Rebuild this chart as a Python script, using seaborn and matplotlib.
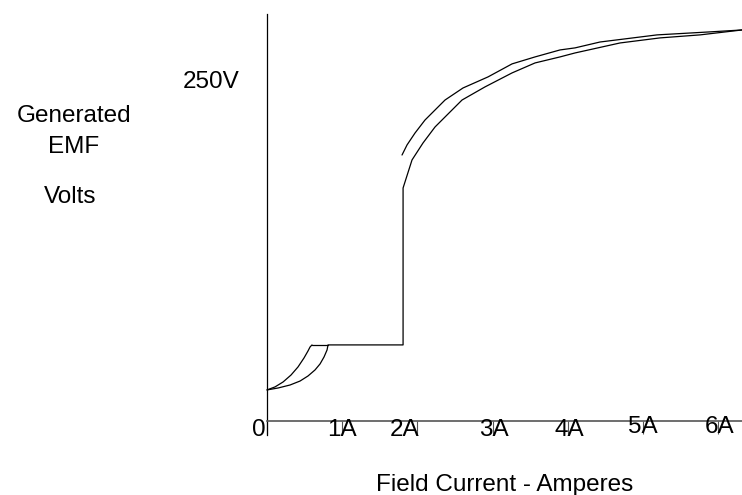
import matplotlib
matplotlib.use("Agg")
import matplotlib.pyplot as plt
import seaborn as sns
import pandas as pd

# ---- data (field current in A, generated EMF in V) ----
rise_a_current = [0.0, 0.106, 0.213, 0.319, 0.412, 0.492, 0.545, 0.572, 0.598]
rise_a_emf = [22.7, 24.9, 28.5, 33.6, 39.5, 46.1, 51.2, 54.1, 55.6]

rise_b_current = [0.0, 0.146, 0.306, 0.439, 0.545, 0.638, 0.705, 0.758,
                  0.798, 0.811, 1.809, 1.809,
                  1.928, 2.074, 2.234, 2.367, 2.593, 2.899, 3.258, 3.564, 3.896,
                  4.096, 4.694, 5.226, 5.758, 6.316]
rise_b_emf = [22.7, 24.1, 26.3, 29.2, 32.9, 37.3, 41.7, 46.8,
              51.9, 55.6, 55.6, 170.3,
              190.8, 203.2, 214.9, 222.2, 234.6, 244.2, 254.4, 261.7, 266.1,
              269.0, 276.3, 280.0, 282.2, 285.8]

plateau_current = [0.598, 0.811]
plateau_emf = [55.6, 55.6]

upper_current = [1.795, 1.862, 1.968, 2.101, 2.234, 2.367, 2.606, 2.939,
                 3.258, 3.564, 3.896, 4.096, 4.428, 5.186, 5.891, 6.316]
upper_emf = [194.4, 201.8, 210.5, 220.0, 227.3, 234.6, 243.4, 251.5,
             261.0, 266.1, 271.2, 272.7, 277.0, 282.2, 284.4, 285.8]

tick_values = [0, 1, 2, 3, 4, 5, 6]
tick_labels = ["0", "1A", "2A", "3A", "4A", "5A", "6A"]
tick_label_x = [-0.11, 1.0, 1.835, 3.012, 4.023, 5.0, 6.024]
tick_label_y = [-11.0, -11.0, -11.0, -11.0, -11.0, -8.8, -8.8]

frames = []
for name, xs, ys in [("rise_a", rise_a_current, rise_a_emf),
                     ("rise_b", rise_b_current, rise_b_emf),
                     ("plateau", plateau_current, plateau_emf),
                     ("upper", upper_current, upper_emf)]:
    frames.append(pd.DataFrame({"current": xs, "emf": ys, "segment": name,
                                "order": range(len(xs))}))
df = pd.concat(frames, ignore_index=True)

sns.set_theme(style="white")
plt.rcParams["font.family"] = ["Liberation Sans", "DejaVu Sans"]

W, H = 742, 495
fig = plt.figure(figsize=(W / 100, H / 100), dpi=100)
ax = fig.add_axes([0, 0, 1, 1])

sns.lineplot(data=df, x="current", y="emf", units="segment", estimator=None,
             sort=False, color="black", linewidth=0.9, ax=ax, legend=False)

ax.set_xlim(-3.551, 6.316)
ax.set_ylim(-54.1, 307.7)

for s in ["top", "right"]:
    ax.spines[s].set_visible(False)
ax.spines["left"].set_position(("data", 0))
ax.spines["left"].set_bounds(-10.2, 297.5)
ax.spines["left"].set_color("black")
ax.spines["left"].set_linewidth(0.9)
ax.spines["bottom"].set_position(("data", 0))
ax.spines["bottom"].set_bounds(0, 6.316)
ax.spines["bottom"].set_color("#555555")
ax.spines["bottom"].set_linewidth(1.2)

ax.set_xticks(tick_values)
ax.set_yticks([])
ax.tick_params(axis="x", direction="out", length=9, width=0.8,
               color="#555555", labelbottom=False, bottom=True)
ax.set_xlabel("")
ax.set_ylabel("")

fs = 17.5
for lx, ly, lab in zip(tick_label_x, tick_label_y, tick_labels):
    ax.text(lx, ly, lab, ha="center", va="baseline", fontsize=fs, color="black")

def ftext(px, py, s):
    fig.text(px / W, 1 - py / H, s, ha="center", va="baseline",
             fontsize=fs, color="black")

ftext(211, 88, "250V")
ftext(74, 122, "Generated")
ftext(73.5, 153, "EMF")
ftext(70, 203, "Volts")
ftext(505, 491, "Field Current - Amperes")

fig.savefig("out.png", dpi=100, facecolor="white")
